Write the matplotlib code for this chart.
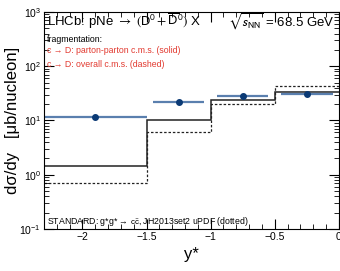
import matplotlib
matplotlib.use('Agg')
import matplotlib.pyplot as plt
import numpy as np

plt.rcParams['font.family'] = ['Liberation Sans', 'DejaVu Sans']
plt.rcParams['mathtext.fontset'] = 'stixsans'

# histogram bins (y*)
bin_edges = [-2.3, -1.5, -1.0, -0.5, 0.0]
solid_vals = [1.47, 10.1, 23.5, 33.5]     # parton-parton c.m.s.
dashed_vals = [0.70, 6.2, 19.8, 43.0]     # overall c.m.s.

# LHCb points
data_x = [-1.9, -1.25, -0.75, -0.25]
data_y = [11.4, 21.5, 28.8, 30.8]
data_xlo = [0.4, 0.2, 0.2, 0.2]
data_xhi = [0.4, 0.2, 0.2, 0.2]

fig = plt.figure(figsize=(3.4, 2.71), dpi=100)
ax = fig.add_axes([0.129, 0.155, 0.868, 0.801])

ax.stairs(solid_vals, bin_edges, color='#222222', lw=1.1, baseline=None)
ax.stairs(dashed_vals, bin_edges, color='#222222', lw=0.9, ls=(0, (2, 1.5)), baseline=None)

ax.errorbar(data_x, data_y, xerr=[data_xlo, data_xhi], fmt='o', ms=4,
            color='#0b3a75', ecolor='#5a7fae', elinewidth=1.6, capsize=0)

ax.set_yscale('log')
ax.set_xlim(-2.3, 0)
ax.set_ylim(0.1, 1000)
ax.set_xticks([-2, -1.5, -1, -0.5, 0])
ax.set_xticklabels(['\u22122', '\u22121.5', '\u22121', '\u22120.5', '0'])
ax.set_xticks(np.arange(-2.3, 0.01, 0.1), minor=True)
ax.tick_params(which='both', direction='in', top=True, right=True, labelsize=7.5, pad=2)
ax.tick_params(which='major', length=7)
ax.tick_params(which='minor', length=3.5)

ax.set_xlabel('y*', fontsize=12, labelpad=4)
ax.set_ylabel('d\u03c3/dy   [\u03bcb/nucleon]', fontsize=12)
ax.yaxis.set_label_coords(-0.08, 0.5)

ax.text(0.01, 0.955, r'LHCb: pNe $\rightarrow$ $\mathrm{(D^{0} + \overline{D}^{0})}$ X',
        transform=ax.transAxes, fontsize=9.5, va='center', ha='left')
ax.text(0.985, 0.955, r'$\sqrt{s_{\mathrm{NN}}}$ = 68.5 GeV',
        transform=ax.transAxes, fontsize=9.5, va='center', ha='right')
ax.text(0.01, 0.875, 'fragmentation:', transform=ax.transAxes, fontsize=6.3, va='center')
ax.text(0.01, 0.82, 'c \u2192 D: parton-parton c.m.s. (solid)', transform=ax.transAxes,
        fontsize=6.3, va='center', color='#e23a30')
ax.text(0.01, 0.76, 'c \u2192 D: overall c.m.s. (dashed)', transform=ax.transAxes,
        fontsize=6.3, va='center', color='#e23a30')
ax.text(0.01, 0.035, 'STANDARD: g*g* \u2192 $\\mathrm{c\\bar{c}}$, JH2013set2 uPDF (dotted)',
        transform=ax.transAxes, fontsize=6.3, va='center')

fig.savefig('out.png', dpi=100)
